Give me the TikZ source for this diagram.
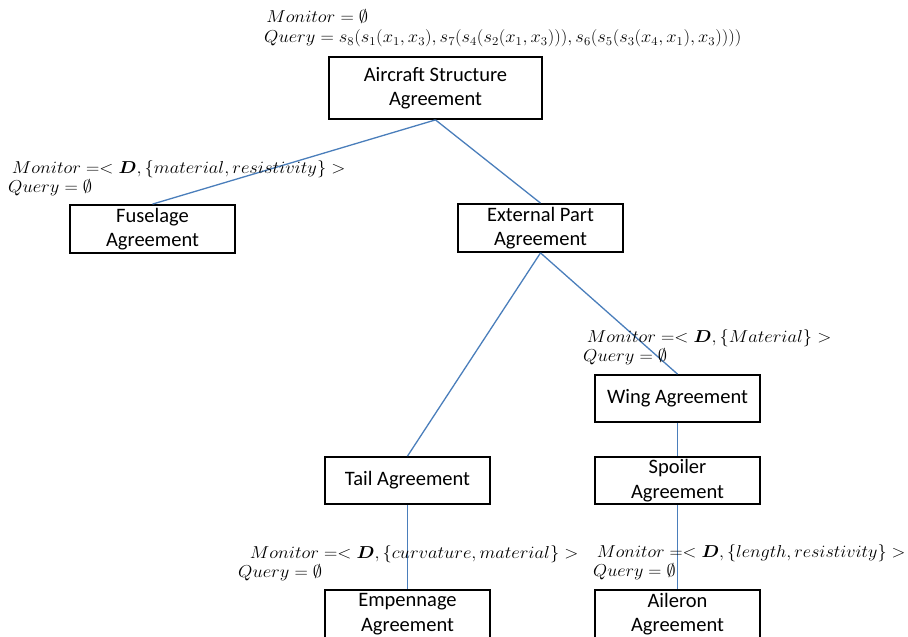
\documentclass[tikz,border=0pt]{standalone}
\usepackage{fontspec}
\usepackage{amsmath,amssymb,bm,graphicx}
\setmainfont{Carlito}
\definecolor{linkblue}{HTML}{4A7EBB}
\newcommand{\twolines}[5][1.07]{\scalebox{#1}[1]{\vtop{\baselineskip=19.5pt\lineskiplimit=-100pt\lineskip=0pt
  \hbox{\hspace*{#2}$#3$}\hbox{\hspace*{#4}$#5$}}}}
\begin{document}
\begin{tikzpicture}[x=1pt,y=-1pt,
  agbox/.style={draw=black,line width=1.8pt,minimum width=165pt,minimum height=48pt,
    inner sep=0pt,align=center,font=\fontsize{20.5}{24.5}\selectfont},
  link/.style={draw=linkblue,line width=1.3pt},
  lbl/.style={anchor=base west,inner sep=0pt,font=\fontsize{17.28}{18}\selectfont}]
\useasboundingbox (0,0) rectangle (908,637);
\node[agbox,minimum width=213pt,minimum height=62pt] (air) at (435.5,88) {Aircraft Structure\\Agreement};
\node[agbox] (fus) at (152.5,229) {Fuselage\\Agreement};
\node[agbox] (ext) at (540.5,228) {External Part\\Agreement};
\node[agbox,minimum height=47pt] (wing) at (677.5,398.5) {Wing Agreement};
\node[agbox,minimum height=47pt] (tail) at (407.5,480.5) {Tail Agreement};
\node[agbox,minimum height=47pt] (spo) at (677.5,480.5) {Spoiler\\Agreement};
\node[agbox] (emp) at (407.5,614) {Empennage\\Agreement};
\node[agbox] (ail) at (677.5,614) {Aileron\\Agreement};
\draw[link] (air.south) -- (fus.north);
\draw[link] (air.south) -- (ext.north);
\draw[link] (ext.south) -- (tail.north);
\draw[link] (ext.south) -- (wing.north);
\draw[link] (wing.south) -- (spo.north);
\draw[link] (tail.south) -- (emp.north);
\draw[link] (spo.south) -- (ail.north);
\node[lbl] (tlab) at (264,23) {\twolines{2pt}{Monitor=\emptyset}{0pt}{Query=s_8(s_1(x_1,x_3),s_7(s_4(s_2(x_1,x_3))),s_6(s_5(s_3(x_4,x_1),x_3))))}};
\node[lbl] (flab) at (8,173) {\twolines{3.5pt}{Monitor=<\bm{D},\{material,resistivity\}>}{0pt}{Query=\emptyset}};
\node[lbl] (wlab) at (583,342) {\twolines{3.5pt}{Monitor=<\bm{D},\{Material\}>}{0pt}{Query=\emptyset}};
\node[lbl] (elab) at (238,558) {\twolines{11pt}{Monitor=<\bm{D},\{curvature,material\}>}{0pt}{Query=\emptyset}};
\node[lbl] (alab) at (593,557) {\twolines[1.05]{3.5pt}{Monitor=<\bm{D},\{length,resistivity\}>}{0pt}{Query=\emptyset}};
\end{tikzpicture}
\end{document}
